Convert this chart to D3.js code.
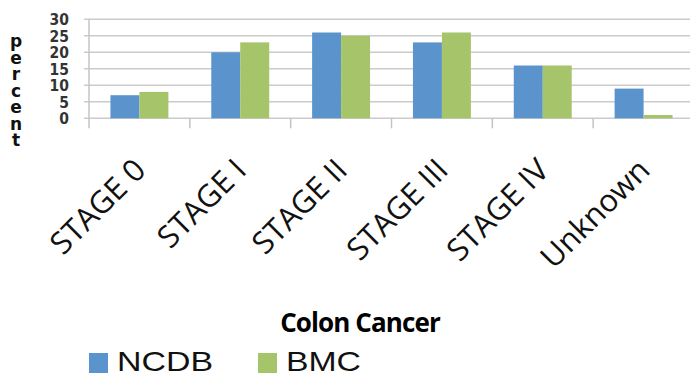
<!DOCTYPE html>
<html>
<head>
<meta charset="utf-8">
<script src="https://cdn.jsdelivr.net/npm/d3@7"></script>
<style>
  html, body { margin: 0; padding: 0; background: #fff; }
  svg { display: block; }
</style>
</head>
<body>
<svg id="chart" width="690" height="377"></svg>
<script>
// Colon cancer stage distribution: NCDB vs BMC (percent)
const categories = ["STAGE 0", "STAGE I", "STAGE II", "STAGE III", "STAGE IV", "Unknown"];
const seriesNames = ["NCDB", "BMC"];
const ncdbValues = [7, 20, 26, 23, 16, 9];
const bmcValues = [8, 23, 25, 26, 16, 1];
const yTicks = [0, 5, 10, 15, 20, 25, 30];
const colors = { NCDB: "#5b94cd", BMC: "#a6c46a" };

const valuesBySeries = { NCDB: ncdbValues, BMC: bmcValues };
const rows = categories.map((c, i) => ({
  category: c,
  values: seriesNames.map(s => ({ series: s, value: valuesBySeries[s][i] }))
}));

const svg = d3.select("#chart");

const x = d3.scaleBand().domain(categories).range([89, 694]).paddingInner(0).paddingOuter(0);
const xSub = d3.scaleBand().domain(seriesNames).range([0, x.bandwidth()]).paddingInner(0).paddingOuter(0.74);
const y = d3.scaleLinear().domain([0, 30]).range([118.3, 19.3]);

// horizontal gridlines
svg.append("g")
  .selectAll("line")
  .data(yTicks)
  .join("line")
  .attr("x1", 84).attr("x2", 690)
  .attr("y1", d => y(d)).attr("y2", d => y(d))
  .attr("stroke", "#cbcbcb")
  .attr("stroke-width", 1.5);

// vertical axis line
svg.append("line")
  .attr("x1", 89).attr("x2", 89)
  .attr("y1", y(30)).attr("y2", y(0) + 10)
  .attr("stroke", "#c4c4c4")
  .attr("stroke-width", 1.5);

// category boundary ticks
svg.append("g")
  .selectAll("line")
  .data(categories.slice(1))
  .join("line")
  .attr("x1", d => x(d)).attr("x2", d => x(d))
  .attr("y1", y(0)).attr("y2", y(0) + 10)
  .attr("stroke", "#c4c4c4")
  .attr("stroke-width", 1.5);

// bars
svg.append("g")
  .selectAll("g")
  .data(rows)
  .join("g")
  .attr("transform", d => `translate(${x(d.category)},0)`)
  .selectAll("rect")
  .data(d => d.values)
  .join("rect")
  .attr("x", d => xSub(d.series))
  .attr("width", xSub.bandwidth())
  .attr("y", d => y(d.value))
  .attr("height", d => y(0) - y(d.value))
  .attr("fill", d => colors[d.series]);

// y tick labels
svg.append("g")
  .selectAll("text")
  .data(yTicks)
  .join("text")
  .attr("x", 69)
  .attr("y", d => y(d) + 6)
  .attr("text-anchor", "end")
  .attr("font-family", "DejaVu Sans Condensed, DejaVu Sans")
  .attr("font-stretch", "condensed")
  .attr("font-weight", "bold")
  .attr("font-size", 15.5)
  .attr("fill", "#333")
  .text(d => d);

// y axis title, upright letters running down the page
svg.append("text")
  .attr("x", 16)
  .attr("y", 31)
  .attr("font-family", "DejaVu Sans")
  .attr("font-weight", "bold")
  .attr("font-size", 17)
  .attr("letter-spacing", -3.5)
  .style("writing-mode", "vertical-rl")
  .style("text-orientation", "upright")
  .attr("fill", "#111")
  .text("percent");

// rotated category labels
svg.append("g")
  .selectAll("text")
  .data(categories)
  .join("text")
  .attr("transform", d => `translate(${x(d) + x.bandwidth() / 2 + 8},${172}) rotate(-45)`)
  .attr("text-anchor", "end")
  .attr("font-family", "Open Sans")
  .attr("font-size", 31)
  .attr("fill", "#111")
  .text(d => d);

// chart title
svg.append("text")
  .attr("x", 360)
  .attr("y", 332)
  .attr("text-anchor", "middle")
  .attr("font-family", "Open Sans")
  .attr("font-weight", "bold")
  .attr("font-size", 26)
  .attr("letter-spacing", -0.9)
  .attr("fill", "#000")
  .text("Colon Cancer");

// legend
const legendX = { NCDB: 89, BMC: 258 };
const legendW = { NCDB: 96, BMC: 75 };
const legend = svg.append("g")
  .selectAll("g")
  .data(seriesNames)
  .join("g")
  .attr("transform", d => `translate(${legendX[d]},353)`);
legend.append("rect")
  .attr("width", 19).attr("height", 20)
  .attr("fill", d => colors[d]);
legend.append("text")
  .attr("x", 28)
  .attr("y", 18)
  .attr("font-family", "Liberation Sans")
  .attr("font-size", 28)
  .attr("textLength", d => legendW[d])
  .attr("lengthAdjust", "spacingAndGlyphs")
  .attr("fill", "#111")
  .text(d => d);
</script>
</body>
</html>
